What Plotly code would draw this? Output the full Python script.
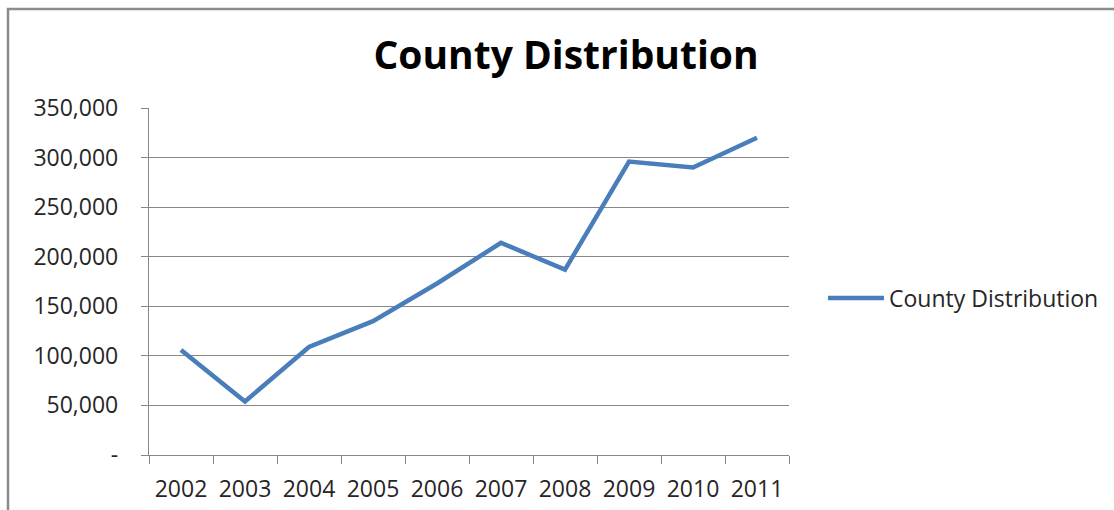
import plotly.graph_objects as go

years = ["2002", "2003", "2004", "2005", "2006", "2007", "2008", "2009", "2010", "2011"]
distribution = [106000, 54000, 109000, 135000, 173000, 214000, 187000, 296000, 290000, 320000]

y_ticks = [0, 50000, 100000, 150000, 200000, 250000, 300000, 350000]
y_tick_text = ["-", "50,000", "100,000", "150,000", "200,000", "250,000", "300,000", "350,000"]

W, H = 1114, 510
L, R, T, B = 149, 325, 108, 55

fig = go.Figure()
fig.add_trace(go.Scatter(
    x=years, y=distribution, mode="lines", name="County Distribution",
    line=dict(color="#4A7EBB", width=4.5),
))

axis_grey = "#878787"
text_col = "#262626"
font_family = "Open Sans, DejaVu Sans, sans-serif"

fig.update_layout(
    width=W, height=H,
    margin=dict(l=L, r=R, t=T, b=B, pad=0, autoexpand=False),
    paper_bgcolor="white", plot_bgcolor="white",
    title=dict(text="<b>County Distribution</b>", x=566 / W, xanchor="center",
               y=1 - 55 / H, yanchor="middle",
               font=dict(family=font_family, size=39, color="#000000")),
    font=dict(family=font_family, size=23, color=text_col),
    showlegend=True,
    legend=dict(x=(823 - L) / (W - L - R), xanchor="left", y=(H - B - 298) / (H - T - B),
                yanchor="middle", font=dict(size=23, color=text_col),
                bgcolor="rgba(0,0,0,0)", tracegroupgap=0, itemwidth=56),
    xaxis=dict(type="category", range=[-0.5, 9.5], tickson="boundaries",
               ticks="outside", ticklen=8, automargin=False,
               tickcolor=axis_grey, showline=True, linecolor=axis_grey, linewidth=1.3,
               showgrid=False, ticklabelstandoff=13,
               tickfont=dict(size=23, color=text_col)),
    yaxis=dict(range=[0, 350000], tickvals=y_ticks, ticktext=y_tick_text,
               ticks="outside", ticklen=7, tickcolor=axis_grey, automargin=False,
               showline=True, linecolor=axis_grey, linewidth=1.3,
               showgrid=True, gridcolor=axis_grey, gridwidth=1.3,
               zeroline=False, ticklabelstandoff=18,
               tickfont=dict(size=23, color=text_col)),
)

# Chart-area border (gray frame running off the right and bottom edges)
pw, ph = W - L - R, H - T - B
fig.add_shape(type="rect", xref="paper", yref="paper",
              x0=(8 - L) / pw, x1=(W + 20 - L) / pw,
              y0=(H - B - (H + 20)) / ph, y1=(H - B - 9) / ph,
              line=dict(color="#8C8C8C", width=2.5), fillcolor="rgba(0,0,0,0)", layer="below")

fig.write_html("out.html")
